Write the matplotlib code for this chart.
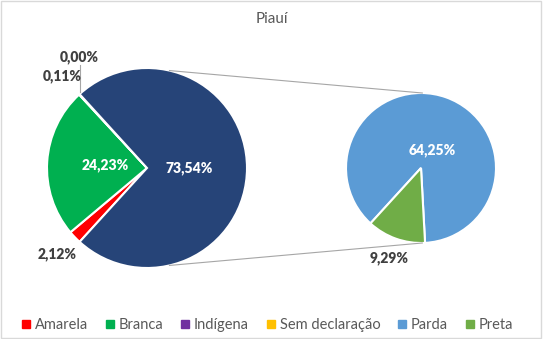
import numpy as np
import matplotlib.pyplot as plt
from matplotlib.patches import Rectangle
from matplotlib.lines import Line2D

plt.rcParams['font.family'] = ['Lato', 'DejaVu Sans']

title = 'Piauí'
main_labels = ['Amarela', 'Branca', 'Indígena', 'Sem declaração']
main_values = [2.12, 24.23, 0.11, 0.00]
sub_labels = ['Parda', 'Preta']
sub_values = [64.25, 9.29]

colors = {'Amarela': '#ff0000', 'Branca': '#00b050', 'Indígena': '#7030a0',
          'Sem declaração': '#ffc000', 'Parda': '#5b9bd5', 'Preta': '#70ad47'}
other_color = '#264478'
txt_gray = '#595959'
lbl_gray = '#404040'

fig = plt.figure(figsize=(5.43, 3.39), dpi=100)
ax = fig.add_axes([0, 0, 1, 1])

fig.patches.append(Rectangle((0.002, 0.003), 0.995, 0.994, transform=fig.transFigure,
                             fill=False, edgecolor='#d9d9d9', lw=1))

# pies drawn in pixel-like coords, y axis flipped afterwards
c1, r1 = (147, 168), 100
c2, r2 = (421, 168), 75
other = sum(sub_values)
vals1 = main_values + [other]
start1 = 360 * (sum(main_values) + other / 2) / 100  # blue wedge centred on the right


def wedge_angles(values, start):
    tot = sum(values)
    angs = []
    a = start
    for v in values:
        span = 360 * v / tot
        angs.append((a - span, a))
        a -= span
    return angs


def pt(c, r, ang):
    t = np.deg2rad(ang)
    return c[0] + r * np.cos(t), c[1] - r * np.sin(t)


ax.pie(vals1, center=c1, radius=r1, startangle=-start1, counterclock=True,
       colors=[colors[k] for k in main_labels] + [other_color],
       wedgeprops=dict(edgecolor='white', linewidth=1.5), frame=True)
ax.pie(sub_values, center=c2, radius=r2, startangle=-start1, counterclock=True,
       colors=[colors[k] for k in sub_labels],
       wedgeprops=dict(edgecolor='white', linewidth=1.5), frame=True)
ax.set_xlim(0, 543)
ax.set_ylim(339, 0)
ax.set_aspect('equal')
ax.axis('off')

fmt = lambda v: f'{v:.2f}%'.replace('.', ',')
lbl = dict(fontsize=10, fontweight='heavy', ha='center', va='center')

angs1 = wedge_angles(vals1, start1)
for i, v in enumerate(vals1):
    lo, hi = angs1[i]
    mid = (lo + hi) / 2
    if v > 10:
        x, y = pt(c1, r1 * 0.42, mid)
        ax.text(x, y, fmt(v), color='white', **lbl)
    elif v > 0:
        x, y = pt(c1, r1 * 1.25, mid)
        ax.text(x, y, fmt(v), color=lbl_gray, **lbl)
    else:
        ex, ey = pt(c1, r1, mid)
        ax.plot([ex, ex], [ey - 2, ey - 29], color='#a6a6a6', lw=0.8)
        ax.text(ex, ey - 37, fmt(v), color=lbl_gray, **lbl)

angs2 = wedge_angles(sub_values, start1)
for i, v in enumerate(sub_values):
    lo, hi = angs2[i]
    mid = (lo + hi) / 2
    if v > 20:
        x, y = pt(c2, r2 * 0.25, mid)
        ax.text(x + 5, y, fmt(v), color='white', **lbl)
    else:
        x, y = pt(c2, r2 * 1.27, mid)
        ax.text(x, y, fmt(v), color=lbl_gray, **lbl)

# connector lines
for s in (1, -1):
    x0, y0 = pt(c1, r1, s * 77)
    x1, y1 = pt(c2, r2, s * 89)
    ax.plot([x0, x1], [y0, y1], color='#a6a6a6', lw=0.8)

fig.text(0.5, 0.945, title, ha='center', va='center', fontsize=11, color=txt_gray)

handles = [Line2D([], [], marker='s', ls='', color=colors[k], markersize=5.5)
           for k in main_labels + sub_labels]
fig.legend(handles, main_labels + sub_labels, loc='center', bbox_to_anchor=(0.49, 0.04),
           ncol=6, frameon=False, fontsize=10.5, labelcolor=txt_gray,
           handletextpad=0.1, columnspacing=1.0, handlelength=1)

fig.savefig('out.png', dpi=100)
